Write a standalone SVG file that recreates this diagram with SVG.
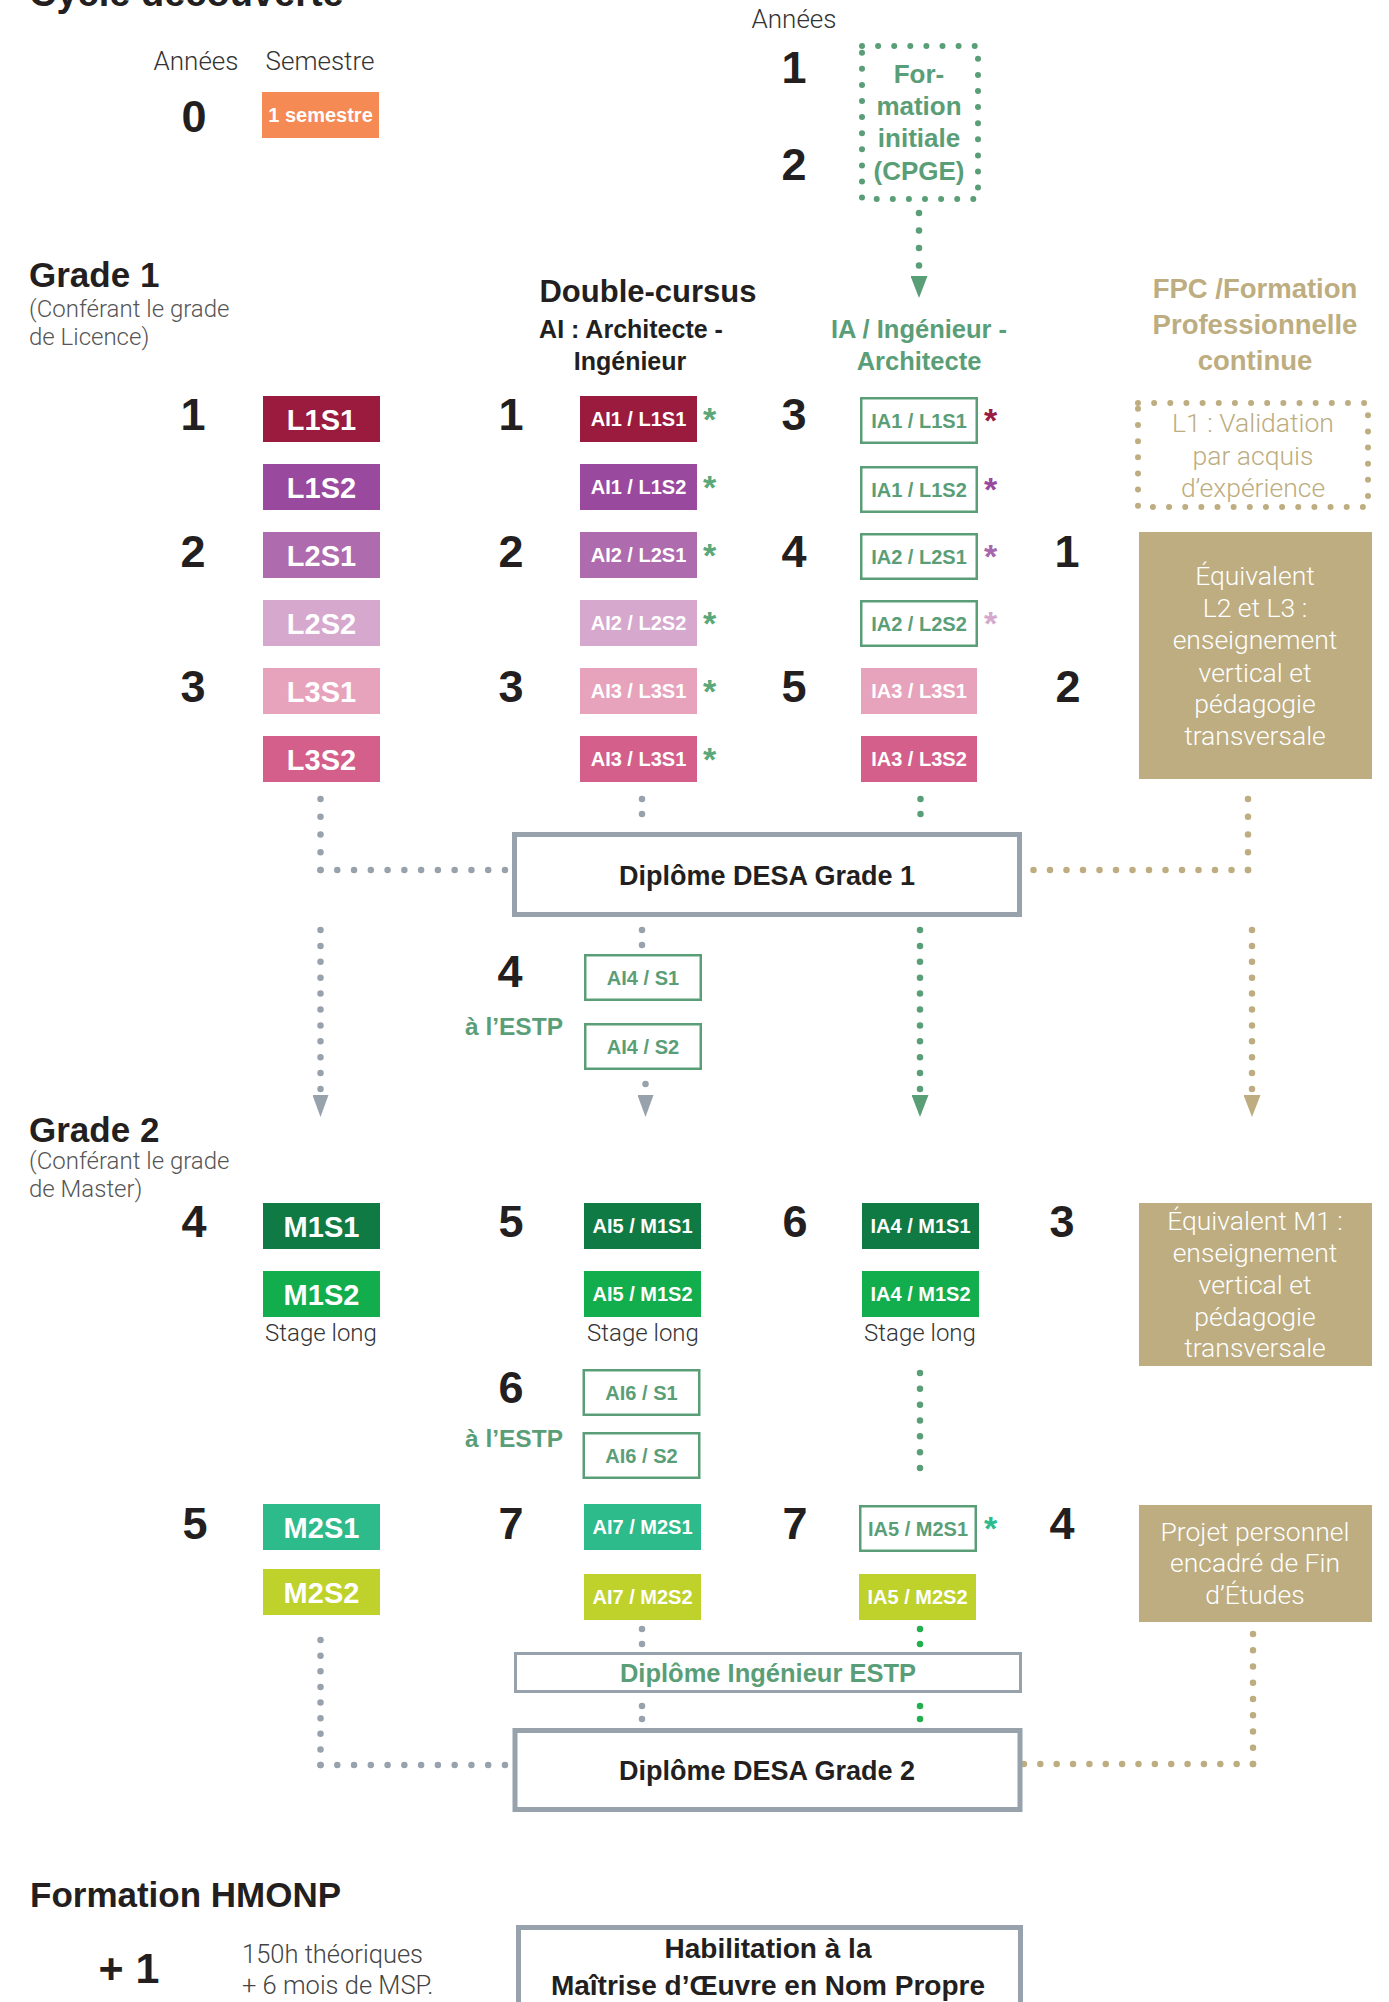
<svg xmlns="http://www.w3.org/2000/svg" width="1389" height="2002" viewBox="0 0 1389 2002">
<style>
.b{font-family:"Liberation Sans",Arial,sans-serif;font-weight:700}
.l{font-family:Roboto,"Liberation Sans",sans-serif;font-weight:300}
.dk{fill:#231f20}
.num{font-family:"Liberation Sans",Arial,sans-serif;font-weight:700;font-size:45px;fill:#231f20;text-anchor:middle}
.lab{font-family:"Liberation Sans",Arial,sans-serif;font-weight:700;font-size:29px;fill:#fff;text-anchor:middle}
.sl{font-family:"Liberation Sans",Arial,sans-serif;font-weight:700;font-size:20px;fill:#fff;text-anchor:middle}
.slg{font-family:"Liberation Sans",Arial,sans-serif;font-weight:700;font-size:20px;fill:#5a9e78;text-anchor:middle}
.ob{fill:#fff;stroke:#5a9e78;stroke-width:2.5}
.ast{font-family:"Liberation Sans",Arial,sans-serif;font-weight:700;font-size:34px}
.wt{font-family:Roboto,"Liberation Sans",sans-serif;font-weight:300;font-size:26.5px;fill:#fff;text-anchor:middle}
.stg{font-family:Roboto,"Liberation Sans",sans-serif;font-weight:300;font-size:24px;fill:#333;text-anchor:middle}
.dg{fill:none;stroke:#98a2ac;stroke-width:6.5;stroke-linecap:round}
.dgr{fill:none;stroke:#5a9e78;stroke-width:6.5;stroke-linecap:round}
.dbg{fill:none;stroke:#22b04e;stroke-width:6.5;stroke-linecap:round}
.dt{fill:none;stroke:#bdad80;stroke-width:6.5;stroke-linecap:round}
.dip{fill:#fff;stroke:#98a2ac;stroke-width:5}
</style>
<defs>
<marker id="ahGray" markerUnits="userSpaceOnUse" markerWidth="22" markerHeight="16" viewBox="0 0 22 16" refX="0" refY="8" orient="auto"><path d="M0,0 L22,8 L0,16 z" fill="#98a2ac"/></marker>
<marker id="ahGreen" markerUnits="userSpaceOnUse" markerWidth="22" markerHeight="17" viewBox="0 0 22 17" refX="0" refY="8.5" orient="auto"><path d="M0,0 L22,8.5 L0,17 z" fill="#5a9e78"/></marker>
<marker id="ahTan" markerUnits="userSpaceOnUse" markerWidth="22" markerHeight="17" viewBox="0 0 22 17" refX="0" refY="8.5" orient="auto"><path d="M0,0 L22,8.5 L0,17 z" fill="#bdad80"/></marker>
</defs>

<g id="headers">
<text class="b dk" x="29" y="6" font-size="38">Cycle découverte</text>
<text class="l" x="196" y="70" font-size="26" fill="#333" text-anchor="middle">Années</text>
<text class="l" x="320" y="70" font-size="26" fill="#333" text-anchor="middle">Semestre</text>
<text class="l" x="794" y="28" font-size="26" fill="#333" text-anchor="middle">Années</text>
<text class="b dk" x="29" y="287" font-size="35">Grade 1</text>
<text class="l" x="29" y="317" font-size="24" fill="#555">(Conférant le grade</text>
<text class="l" x="29" y="345" font-size="24" fill="#555">de Licence)</text>
<text class="b dk" x="648" y="302" font-size="31" text-anchor="middle">Double-cursus</text>
<text class="b dk" x="631" y="338" font-size="25" text-anchor="middle">AI : Architecte -</text>
<text class="b dk" x="630" y="370" font-size="25" text-anchor="middle">Ingénieur</text>
<text class="b" x="919" y="338" font-size="25.5" fill="#5a9e78" text-anchor="middle">IA / Ingénieur -</text>
<text class="b" x="919" y="370" font-size="25.5" fill="#5a9e78" text-anchor="middle">Architecte</text>
<text class="b" x="1255" y="298" font-size="27.5" fill="#bdad80" text-anchor="middle">FPC /Formation</text>
<text class="b" x="1255" y="334" font-size="27.5" fill="#bdad80" text-anchor="middle">Professionnelle</text>
<text class="b" x="1255" y="370" font-size="27.5" fill="#bdad80" text-anchor="middle">continue</text>
<text class="b dk" x="29" y="1142" font-size="35">Grade 2</text>
<text class="l" x="29" y="1169" font-size="24" fill="#555">(Conférant le grade</text>
<text class="l" x="29" y="1197" font-size="24" fill="#555">de Master)</text>
<text class="b dk" x="30" y="1907" font-size="35">Formation HMONP</text>
<text class="b" x="514" y="1035" font-size="24.5" fill="#5a9e78" text-anchor="middle">à l’ESTP</text>
<text class="b" x="514" y="1447" font-size="24.5" fill="#5a9e78" text-anchor="middle">à l’ESTP</text>
<text class="stg" x="321" y="1341">Stage long</text>
<text class="stg" x="643" y="1341">Stage long</text>
<text class="stg" x="920" y="1341">Stage long</text>
</g>

<g id="years">
<text class="num" x="194" y="132">0</text>
<text class="num" x="193" y="430">1</text>
<text class="num" x="193" y="567">2</text>
<text class="num" x="193" y="702">3</text>
<text class="num" x="194" y="1237">4</text>
<text class="num" x="195" y="1539">5</text>
<text class="num" x="511" y="430">1</text>
<text class="num" x="511" y="567">2</text>
<text class="num" x="511" y="702">3</text>
<text class="num" x="510" y="987">4</text>
<text class="num" x="511" y="1237">5</text>
<text class="num" x="511" y="1403">6</text>
<text class="num" x="511" y="1539">7</text>
<text class="num" x="794" y="83">1</text>
<text class="num" x="794" y="180">2</text>
<text class="num" x="794" y="430">3</text>
<text class="num" x="794" y="567">4</text>
<text class="num" x="794" y="702">5</text>
<text class="num" x="795" y="1237">6</text>
<text class="num" x="795" y="1539">7</text>
<text class="num" x="1067" y="567">1</text>
<text class="num" x="1068" y="702">2</text>
<text class="num" x="1062" y="1237">3</text>
<text class="num" x="1062" y="1539">4</text>
<text class="b dk" x="129" y="1983" font-size="43" text-anchor="middle">+ 1</text>
<text class="l" x="242" y="1963" font-size="25.5" fill="#444">150h théoriques</text>
<text class="l" x="242" y="1994" font-size="25.5" fill="#444">+ 6 mois de MSP.</text>
</g>

<g id="connectors">
<path class="dg" d="M320.5,799 V870.5" stroke-dasharray="0 17.75"/>
<path class="dg" d="M320.5,870 H505.5" stroke-dasharray="0 16.77"/>
<path class="dg" d="M642,799 V814.5" stroke-dasharray="0 15"/>
<path class="dg" d="M642,930 V945.5" stroke-dasharray="0 15"/>
<path class="dg" d="M645.5,1084 V1095" stroke-dasharray="0 30" marker-end="url(#ahGray)"/>
<path class="dg" d="M320.5,930 V1095" stroke-dasharray="0 15.9" marker-end="url(#ahGray)"/>
<path class="dg" d="M320.5,1640 V1765.5" stroke-dasharray="0 15.63"/>
<path class="dg" d="M320.5,1765 H505.5" stroke-dasharray="0 16.77"/>
<path class="dg" d="M642,1629 V1644.5" stroke-dasharray="0 15"/>
<path class="dg" d="M642,1706 V1719.5" stroke-dasharray="0 13"/>
<path class="dgr" d="M919,213 V276" stroke-dasharray="0 17.5" marker-end="url(#ahGreen)"/>
<path class="dgr" d="M920.5,799 V814.5" stroke-dasharray="0 15"/>
<path class="dgr" d="M920,930 V1095" stroke-dasharray="0 15.9" marker-end="url(#ahGreen)"/>
<path class="dgr" d="M920,1373 V1468.5" stroke-dasharray="0 15.83"/>
<path class="dbg" d="M920,1629 V1644.5" stroke-dasharray="0 15"/>
<path class="dbg" d="M920,1706 V1719.5" stroke-dasharray="0 13"/>
<path class="dt" d="M1248,799 V870.5" stroke-dasharray="0 17.75"/>
<path class="dt" d="M1248,870 H1024.5" stroke-dasharray="0 16.5"/>
<path class="dt" d="M1252,930 V1095" stroke-dasharray="0 15.9" marker-end="url(#ahTan)"/>
<path class="dt" d="M1253,1634 V1764.5" stroke-dasharray="0 16.25"/>
<path class="dt" d="M1253,1764 H1023.5" stroke-dasharray="0 16.36"/>
</g>

<g id="semestre0"><rect x="262" y="92" width="117" height="46" fill="#f58a55"/><text class="sl" x="320.5" y="122">1 semestre</text></g>

<g id="cpge"><rect x="862" y="46" width="116" height="153" fill="none" stroke="#5a9e78" stroke-width="6" stroke-linecap="round" stroke-dasharray="0 16.1"/>
<text class="b" x="919" y="83" font-size="26" fill="#5a9e78" text-anchor="middle">For-</text>
<text class="b" x="919" y="115" font-size="26" fill="#5a9e78" text-anchor="middle">mation</text>
<text class="b" x="919" y="147" font-size="26" fill="#5a9e78" text-anchor="middle">initiale</text>
<text class="b" x="919" y="180" font-size="26" fill="#5a9e78" text-anchor="middle">(CPGE)</text></g>

<g id="L1S1"><rect x="263" y="396" width="117" height="46" fill="#9b1b3f"/><text class="lab" x="321.5" y="430">L1S1</text></g>
<g id="L1S2"><rect x="263" y="464" width="117" height="46" fill="#9a4a9e"/><text class="lab" x="321.5" y="498">L1S2</text></g>
<g id="L2S1"><rect x="263" y="532" width="117" height="46" fill="#ae6bad"/><text class="lab" x="321.5" y="566">L2S1</text></g>
<g id="L2S2"><rect x="263" y="600" width="117" height="46" fill="#d6a8ce"/><text class="lab" x="321.5" y="634">L2S2</text></g>
<g id="L3S1"><rect x="263" y="668" width="117" height="46" fill="#e8a3bc"/><text class="lab" x="321.5" y="702">L3S1</text></g>
<g id="L3S2"><rect x="263" y="736" width="117" height="46" fill="#d45f8b"/><text class="lab" x="321.5" y="770">L3S2</text></g>

<g id="AI1S1"><rect x="580" y="396" width="117" height="46" fill="#9b1b3f"/><text class="sl" x="638.5" y="426">AI1 / L1S1</text><text class="ast" x="703" y="431" fill="#5aa878">*</text></g>
<g id="AI1S2"><rect x="580" y="464" width="117" height="46" fill="#9a4a9e"/><text class="sl" x="638.5" y="494">AI1 / L1S2</text><text class="ast" x="703" y="499" fill="#5aa878">*</text></g>
<g id="AI2S1"><rect x="580" y="532" width="117" height="46" fill="#ae6bad"/><text class="sl" x="638.5" y="562">AI2 / L2S1</text><text class="ast" x="703" y="567" fill="#5aa878">*</text></g>
<g id="AI2S2"><rect x="580" y="600" width="117" height="46" fill="#d6a8ce"/><text class="sl" x="638.5" y="630">AI2 / L2S2</text><text class="ast" x="703" y="635" fill="#5aa878">*</text></g>
<g id="AI3S1"><rect x="580" y="668" width="117" height="46" fill="#e8a3bc"/><text class="sl" x="638.5" y="698">AI3 / L3S1</text><text class="ast" x="703" y="703" fill="#5aa878">*</text></g>
<g id="AI3S2"><rect x="580" y="736" width="117" height="46" fill="#d45f8b"/><text class="sl" x="638.5" y="766">AI3 / L3S1</text><text class="ast" x="703" y="771" fill="#5aa878">*</text></g>

<g id="IA1S1"><rect class="ob" x="861.25" y="398.25" width="115.5" height="44.5"/><text class="slg" x="919" y="428">IA1 / L1S1</text><text class="ast" x="984" y="432" fill="#9b1b3f">*</text></g>
<g id="IA1S2"><rect class="ob" x="861.25" y="467.25" width="115.5" height="44.5"/><text class="slg" x="919" y="497">IA1 / L1S2</text><text class="ast" x="984" y="501" fill="#9a4a9e">*</text></g>
<g id="IA2S1"><rect class="ob" x="861.25" y="534.25" width="115.5" height="44.5"/><text class="slg" x="919" y="564">IA2 / L2S1</text><text class="ast" x="984" y="568" fill="#a866ae">*</text></g>
<g id="IA2S2"><rect class="ob" x="861.25" y="601.25" width="115.5" height="44.5"/><text class="slg" x="919" y="631">IA2 / L2S2</text><text class="ast" x="984" y="635" fill="#d6a8ce">*</text></g>
<g id="IA3S1"><rect x="861" y="668" width="116" height="46" fill="#e8a3bc"/><text class="sl" x="919" y="698">IA3 / L3S1</text></g>
<g id="IA3S2"><rect x="861" y="736" width="116" height="46" fill="#d45f8b"/><text class="sl" x="919" y="766">IA3 / L3S2</text></g>

<g id="VAE"><rect x="1138" y="403" width="230" height="104" fill="none" stroke="#bdad80" stroke-width="6" stroke-linecap="round" stroke-dasharray="0 16.15"/>
<text class="l" x="1253" y="432" font-size="26.5" fill="#bdad80" text-anchor="middle">L1 : Validation</text>
<text class="l" x="1253" y="465" font-size="26.5" fill="#bdad80" text-anchor="middle">par acquis</text>
<text class="l" x="1253" y="497" font-size="26.5" fill="#bdad80" text-anchor="middle">d’expérience</text></g>

<g id="FPC-L2L3"><rect x="1139" y="532" width="233" height="247" fill="#bdad80"/>
<text class="wt" x="1255" y="585">Équivalent</text>
<text class="wt" x="1255" y="617">L2 et L3 :</text>
<text class="wt" x="1255" y="649">enseignement</text>
<text class="wt" x="1255" y="682">vertical et</text>
<text class="wt" x="1255" y="713">pédagogie</text>
<text class="wt" x="1255" y="745">transversale</text></g>

<g id="DESA1"><rect class="dip" x="514.5" y="834.5" width="505" height="80"/><text class="b dk" x="767" y="885" font-size="27" text-anchor="middle">Diplôme DESA Grade 1</text></g>

<g id="AI4S1"><rect class="ob" x="585.25" y="955.25" width="115.5" height="44.5"/><text class="slg" x="643" y="985">AI4 / S1</text></g>
<g id="AI4S2"><rect class="ob" x="585.25" y="1024.25" width="115.5" height="44.5"/><text class="slg" x="643" y="1054">AI4 / S2</text></g>

<g id="M1S1"><rect x="263" y="1203" width="117" height="46" fill="#107a44"/><text class="lab" x="321.5" y="1237">M1S1</text></g>
<g id="M1S2"><rect x="263" y="1271" width="117" height="46" fill="#12ad4c"/><text class="lab" x="321.5" y="1305">M1S2</text></g>
<g id="M2S1"><rect x="263" y="1504" width="117" height="46" fill="#2dbb8c"/><text class="lab" x="321.5" y="1538">M2S1</text></g>
<g id="M2S2"><rect x="263" y="1569" width="117" height="46" fill="#bed22b"/><text class="lab" x="321.5" y="1603">M2S2</text></g>

<g id="AI5S1"><rect x="584" y="1203" width="117" height="46" fill="#107a44"/><text class="sl" x="642.5" y="1233">AI5 / M1S1</text></g>
<g id="AI5S2"><rect x="584" y="1271" width="117" height="46" fill="#12ad4c"/><text class="sl" x="642.5" y="1301">AI5 / M1S2</text></g>
<g id="AI6S1"><rect class="ob" x="583.75" y="1370.25" width="115.5" height="44.5"/><text class="slg" x="641.5" y="1400">AI6 / S1</text></g>
<g id="AI6S2"><rect class="ob" x="583.75" y="1433.25" width="115.5" height="44.5"/><text class="slg" x="641.5" y="1463">AI6 / S2</text></g>
<g id="AI7S1"><rect x="584" y="1504" width="117" height="46" fill="#2dbb8c"/><text class="sl" x="642.5" y="1534">AI7 / M2S1</text></g>
<g id="AI7S2"><rect x="584" y="1574" width="117" height="46" fill="#bed22b"/><text class="sl" x="642.5" y="1604">AI7 / M2S2</text></g>

<g id="IA4S1"><rect x="862" y="1203" width="117" height="46" fill="#107a44"/><text class="sl" x="920.5" y="1233">IA4 / M1S1</text></g>
<g id="IA4S2"><rect x="862" y="1271" width="117" height="46" fill="#12ad4c"/><text class="sl" x="920.5" y="1301">IA4 / M1S2</text></g>
<g id="IA5S1"><rect class="ob" x="860.25" y="1506.25" width="115.5" height="44.5"/><text class="slg" x="918" y="1536">IA5 / M2S1</text><text class="ast" x="984" y="1540" fill="#2dbb8c">*</text></g>
<g id="IA5S2"><rect x="859" y="1574" width="117" height="46" fill="#bed22b"/><text class="sl" x="917.5" y="1604">IA5 / M2S2</text></g>

<g id="FPC-M1"><rect x="1139" y="1203" width="233" height="163" fill="#bdad80"/>
<text class="wt" x="1255" y="1230">Équivalent M1 :</text>
<text class="wt" x="1255" y="1262">enseignement</text>
<text class="wt" x="1255" y="1294">vertical et</text>
<text class="wt" x="1255" y="1326">pédagogie</text>
<text class="wt" x="1255" y="1357">transversale</text></g>

<g id="FPC-PFE"><rect x="1139" y="1505" width="233" height="117" fill="#bdad80"/>
<text class="wt" x="1255" y="1541">Projet personnel</text>
<text class="wt" x="1255" y="1572">encadré de Fin</text>
<text class="wt" x="1255" y="1604">d’Études</text></g>

<g id="ingESTP"><rect x="515.5" y="1653.5" width="505" height="38" fill="#fff" stroke="#98a2ac" stroke-width="3"/><text class="b" x="768" y="1682" font-size="25.5" fill="#5a9e78" text-anchor="middle">Diplôme Ingénieur ESTP</text></g>

<g id="DESA2"><rect class="dip" x="515" y="1730.5" width="505" height="79"/><text class="b dk" x="767" y="1780" font-size="27" text-anchor="middle">Diplôme DESA Grade 2</text></g>

<g id="HMONP"><rect class="dip" x="518.5" y="1927.5" width="502" height="100"/>
<text class="b dk" x="768" y="1958" font-size="28" text-anchor="middle">Habilitation à la</text>
<text class="b dk" x="768" y="1995" font-size="28" text-anchor="middle">Maîtrise d’Œuvre en Nom Propre</text></g>
</svg>
